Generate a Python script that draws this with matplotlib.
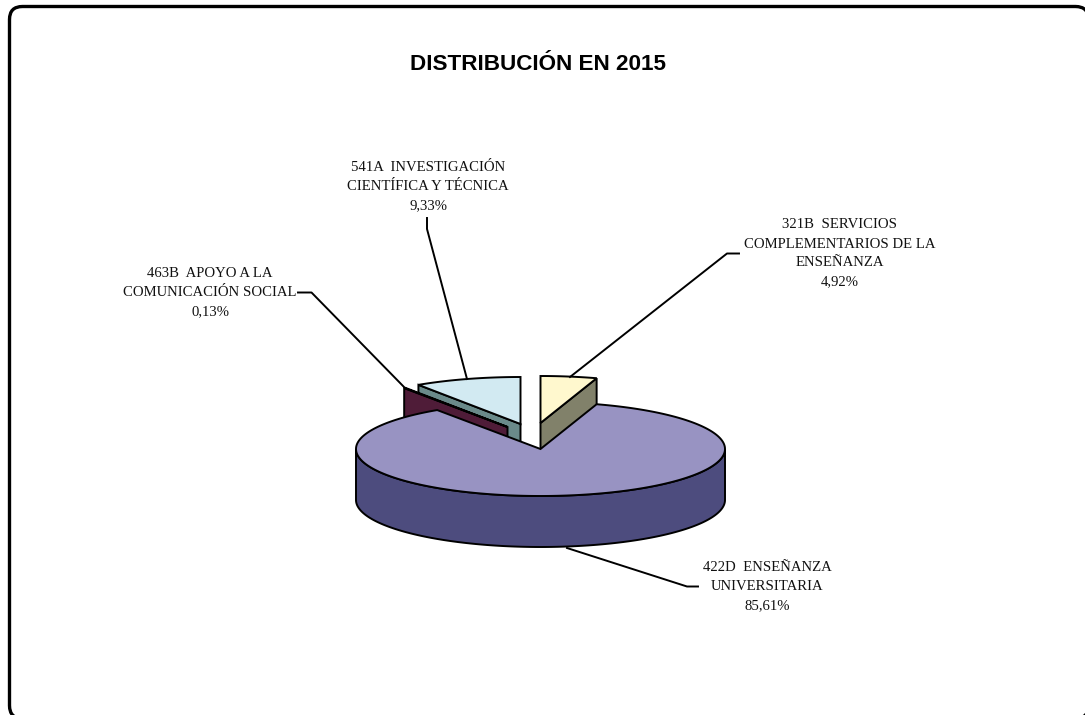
import numpy as np
import matplotlib
matplotlib.use("Agg")
import matplotlib.pyplot as plt
from matplotlib.patches import FancyBboxPatch, Polygon, Rectangle

title = "DISTRIBUCIÓN EN 2015"
labels = [
    "321B  SERVICIOS\nCOMPLEMENTARIOS DE LA\nENSEÑANZA\n4,92%",
    "422D  ENSEÑANZA\nUNIVERSITARIA\n85,61%",
    "463B  APOYO A LA\nCOMUNICACIÓN SOCIAL\n0,13%",
    "541A  INVESTIGACIÓN\nCIENTÍFICA Y TÉCNICA\n9,33%",
]
shares = [4.92, 85.61, 0.13, 9.33]
top_colors = ["#FFF8CE", "#9893C2", "#6E3050", "#D2EAF2"]
side_colors = ["#81816A", "#4D4C7E", "#4F1C38", "#6A8A8A"]

# pie geometry, in pixels
cx, cy = 540.5, 449
rx, ry = 184.5, 47
depth = 51
offsets = [(0, -26), (0, 0), (-33, -22), (-20, -25)]
label_pos = [(840, 253.5), (767, 586.5), (210, 292.5), (428, 186.5)]
leaders = [
    [(739, 253.5), (727, 253.5), (570, 377)],
    [(567, 548), (687, 586.5), (698, 586.5)],
    [(298, 292.5), (311.5, 292.5), (405, 388)],
    [(427, 218), (427, 229), (467, 379)],
]


def point(angle, ox, oy):
    # angle is clockwise from 12 o'clock
    return cx + ox + rx * np.sin(angle), cy + oy - ry * np.cos(angle)


def arc(a0, a1, ox, oy):
    t = np.linspace(a0, a1, max(2, int(abs(a1 - a0) * 60)))
    return np.column_stack(point(t, ox, oy))


def cut_wall(ax, angle, off, color):
    ox, oy = off
    apex = (cx + ox, cy + oy)
    p = point(angle, ox, oy)
    ax.add_patch(Polygon([apex, p, (p[0], p[1] + depth), (apex[0], apex[1] + depth)],
                         fc=color, ec="black", lw=1.4, zorder=2))


def draw_slice(ax, a0, a1, off, top, side):
    ox, oy = off
    # outer wall, only the part facing the viewer
    lo, hi = max(a0, np.pi / 2), min(a1, 3 * np.pi / 2)
    if hi > lo:
        upper = arc(lo, hi, ox, oy)
        lower = upper + [0, depth]
        ax.add_patch(Polygon(np.vstack([upper, lower[::-1]]), fc=side, ec="black", lw=1.4, zorder=2))
    # cut walls turned towards the viewer
    if a0 > np.pi:
        cut_wall(ax, a0, off, side)
    if a1 < np.pi:
        cut_wall(ax, a1, off, side)
    pts = np.vstack([[(cx + ox, cy + oy)], arc(a0, a1, ox, oy)])
    ax.add_patch(Polygon(pts, fc=top, ec="black", lw=1.4, zorder=2))


fig = plt.figure(figsize=(10.85, 7.15), dpi=100)
ax = fig.add_axes([0, 0, 1, 1])
ax.set_xlim(0, 1085)
ax.set_ylim(715, 0)
ax.axis("off")

ax.add_patch(FancyBboxPatch((9.5, 6.5), 1079, 712, boxstyle="round,pad=0,rounding_size=13",
                            fc="white", ec="black", lw=2.4, zorder=0))

angles = np.cumsum([0] + shares) / sum(shares) * 2 * np.pi
for i in [3, 2, 0, 1]:
    draw_slice(ax, angles[i], angles[i + 1], offsets[i], top_colors[i], side_colors[i])

for pts in leaders:
    xs, ys = zip(*pts)
    ax.plot(xs, ys, color="black", lw=1.4, zorder=3)

for lab, (x, y) in zip(labels, label_pos):
    t = ax.text(x, y, lab, ha="center", va="center", family="Liberation Serif",
                fontsize=10.6, linespacing=1.6, color="#111111", zorder=4)
    if lab.startswith("321B"):
        t.set_clip_path(Rectangle((700, 200), 238.5, 120, transform=ax.transData))

ax.text(537.5, 70, title, ha="center", va="baseline", family="Liberation Sans",
        fontsize=16.2, fontweight="bold", color="black")

fig.savefig("out.png", dpi=100)
